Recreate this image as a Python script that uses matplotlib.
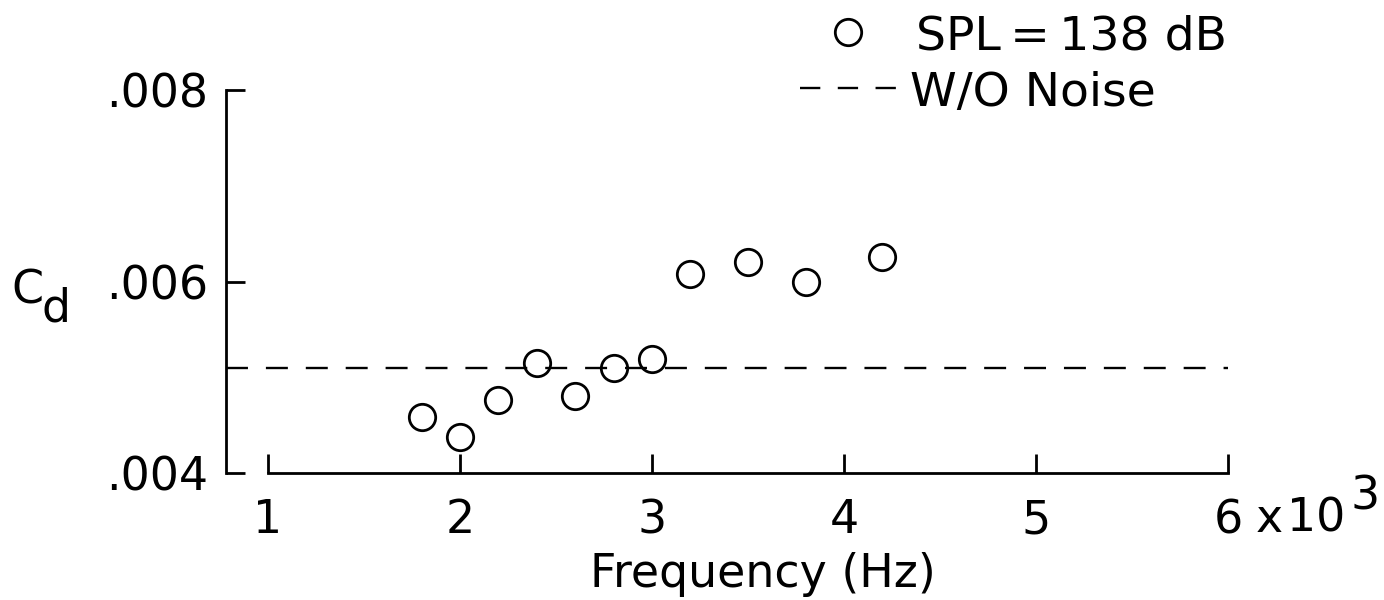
import matplotlib
matplotlib.use("Agg")
import matplotlib.pyplot as plt

# ---- data ----
freq_khz = [1.8, 2.0, 2.2, 2.4, 2.6, 2.8, 3.0, 3.2, 3.5, 3.8, 4.2]
cd_noise = [0.00459, 0.00438, 0.00476, 0.00515, 0.00480, 0.00510,
            0.00519, 0.00608, 0.00620, 0.00600, 0.00626]
cd_without_noise = 0.00510
x_ticks = [1, 2, 3, 4, 5, 6]
x_ticklabels = ["1", "2", "3", "4", "5", "6"]
y_ticks = [0.004, 0.006, 0.008]
y_ticklabels = [".004", ".006", ".008"]
legend_labels = ["SPL\u2009=\u2009138 dB", "W/O Noise"]

plt.rcParams['font.family'] = ['DejaVu Sans']
FS = 33
W, H = 1384, 600

fig = plt.figure(figsize=(W / 100, H / 100), dpi=100)
fig.patch.set_facecolor('white')

# axes: left spine at x=226px, top .008 at y=90px, bottom .004 at y=473px, x=6 at 1228px
L, R, T, B = 226, 1228, 90, 473
ax = fig.add_axes([L / W, 1 - B / H, (R - L) / W, (B - T) / H])
px_per_unit = 192.0
x_left = 6 - (R - L) / px_per_unit
ax.set_xlim(x_left, 6.0)
ax.set_ylim(0.004, 0.008)
ax.patch.set_alpha(0)

lw_spine = 2.0
for s in ['top', 'right']:
    ax.spines[s].set_visible(False)
ax.spines['left'].set_linewidth(lw_spine)
ax.spines['bottom'].set_linewidth(lw_spine)
ax.spines['bottom'].set_bounds(1, 6)

ax.set_xticks(x_ticks)
ax.set_xticklabels(x_ticklabels)
ax.set_yticks(y_ticks)
ax.set_yticklabels(y_ticklabels)
ax.tick_params(axis='both', direction='in', length=14, width=lw_spine,
               labelsize=FS, colors='black')
ax.tick_params(axis='x', pad=18)
ax.tick_params(axis='y', pad=13)

ax.plot([x_left, 6.0], [cd_without_noise, cd_without_noise], color='black',
        lw=1.7, linestyle=(0, (9.3, 7.6)), clip_on=False)
ax.plot(freq_khz, cd_noise, 'o', mfc='none', mec='black', ms=19, mew=2.0,
        clip_on=False)

# x label
ax.set_xlabel("Frequency (Hz)", fontsize=FS, va='baseline')
ax.xaxis.set_label_coords((763 - L) / (R - L), (B - 587) / (B - T))

# overlay in pixel coordinates for annotations
ov = fig.add_axes([0, 0, 1, 1])
ov.set_xlim(0, W)
ov.set_ylim(H, 0)
ov.axis('off')
ov.patch.set_alpha(0)

# y label C_d
ov.text(11, 304, "C", fontsize=FS, ha='left', va='baseline')
ov.text(41, 321, "d", fontsize=FS, ha='left', va='baseline')

# x10^3 multiplier
ov.text(1256, 532, "x", fontsize=FS, ha='left', va='baseline')
ov.text(1287, 532, "10", fontsize=FS, ha='left', va='baseline')
ov.text(1351, 510, "3", fontsize=FS, ha='left', va='baseline')

# legend
ov.plot([848], [32], 'o', mfc='none', mec='black', ms=19, mew=2.0)
ov.plot([800, 898], [88, 88], color='black', lw=1.7, linestyle=(0, (8.6, 7.4)))
ov.text(916, 49, legend_labels[0], fontsize=34, ha='left', va='baseline')
ov.text(910, 106, legend_labels[1], fontsize=34, ha='left', va='baseline')

fig.savefig("out.png", dpi=100, facecolor='white')
